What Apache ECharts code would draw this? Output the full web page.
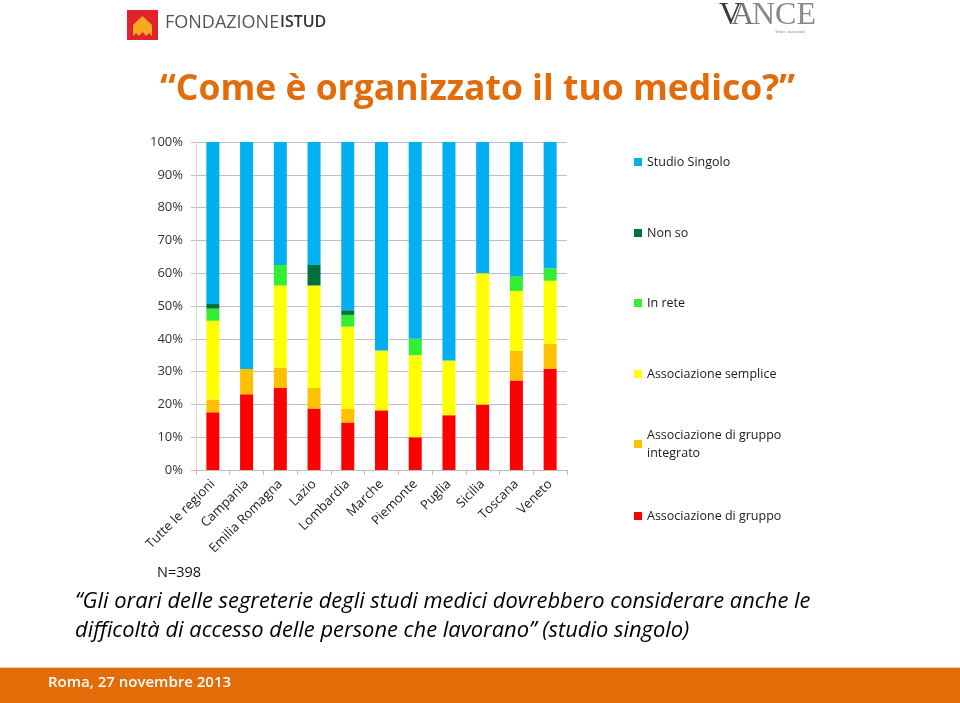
<!DOCTYPE html>
<html>
<head>
<meta charset="utf-8">
<script src="https://cdn.jsdelivr.net/npm/echarts@6/dist/echarts.min.js"></script>
<style>
html,body{margin:0;padding:0;background:#fff;}
#chart{width:960px;height:703px;}
</style>
</head>
<body>
<div id="chart"></div>
<script>
// ---- data ----
const categories = ['Tutte le regioni','Campania','Emilia Romagna','Lazio','Lombardia','Marche','Piemonte','Puglia','Sicilia','Toscana','Veneto'];
const gruppo          = [17.6, 23.1, 25.0, 18.75, 14.5, 18.2, 10.0, 16.7, 20.0, 27.3, 30.8];
const gruppoIntegrato = [3.9, 7.7, 6.25, 6.25, 4.1, 0, 0, 0, 0, 9.1, 7.7];
const semplice        = [24.0, 0, 25.0, 31.25, 25.1, 18.2, 25.0, 16.7, 40.0, 18.2, 19.2];
const inRete          = [3.7, 0, 6.25, 0, 3.6, 0, 5.0, 0, 0, 4.5, 3.8];
const nonSo           = [1.4, 0, 0, 6.25, 1.4, 0, 0, 0, 0, 0, 0];
const studioSingolo   = [49.4, 69.2, 37.5, 37.5, 51.3, 63.6, 60.0, 66.6, 40.0, 40.9, 38.5];
const yTicks = [0,10,20,30,40,50,60,70,80,90,100];

const seriesNames = ['Associazione di gruppo','Associazione di gruppo integrato','Associazione semplice','In rete','Non so','Studio Singolo'];
const seriesData = [gruppo, gruppoIntegrato, semplice, inRete, nonSo, studioSingolo];
const seriesColors = ['#FF0000','#FFC000','#FFFF00','#33EE33','#00703C','#00B0F0'];

const chart = echarts.init(document.getElementById('chart'), null, {renderer:'canvas'});

const legendCenters = {
  'Studio Singolo': 162,
  'Non so': 233,
  'In rete': 303,
  'Associazione semplice': 374,
  'Associazione di gruppo integrato': 444,
  'Associazione di gruppo': 516
};
const legends = Object.keys(legendCenters).map(name => {
  const two = name === 'Associazione di gruppo integrato';
  return {
    data: [name],
    left: 634,
    top: two ? legendCenters[name] - 27 : legendCenters[name] - 8,
    orient: 'vertical',
    icon: 'rect',
    itemWidth: 8,
    itemHeight: 8,
    itemGap: 4,
    padding: 0,
    selectedMode: false,
    formatter: two ? 'Associazione di gruppo\nintegrato' : '{name}',
    textStyle: two
      ? {fontFamily:'Open Sans', fontSize:12.5, color:'#1a1a1a', lineHeight:18, padding:[18,0,0,0]}
      : {fontFamily:'Open Sans', fontSize:12.5, color:'#1a1a1a', lineHeight:16}
  };
});

const option = {
  backgroundColor: '#ffffff',
  animation: false,
  title: {
    text: '“Come è organizzato il tuo medico?”',
    left: 160,
    top: 72,
    padding: 0,
    textStyle: {fontFamily:'Open Sans', fontWeight:'bold', fontSize:35.5, color:'#E36C0A'}
  },
  legend: legends,
  grid: {left:196, right:393, top:142, bottom:233, containLabel:false},
  xAxis: {
    type: 'category',
    data: categories,
    axisLine: {lineStyle:{color:'#BFBFBF'}},
    axisTick: {show:true, alignWithLabel:false, length:5, lineStyle:{color:'#BFBFBF'}},
    axisLabel: {rotate:45, interval:0, margin:12, fontFamily:'Open Sans', fontSize:13, color:'#222'}
  },
  yAxis: {
    type: 'value',
    min: 0, max: 100, interval: 10,
    axisLine: {show:true, lineStyle:{color:'#D9D9D9'}},
    axisTick: {show:true, length:5, lineStyle:{color:'#BFBFBF'}},
    axisLabel: {formatter: v => yTicks.includes(v) ? v + '%' : '', margin:13, fontFamily:'Open Sans', fontSize:13, color:'#333'},
    splitLine: {show:true, lineStyle:{color:'#C0C0C0'}}
  },
  series: seriesNames.map((n,i) => ({
    name: n,
    type: 'bar',
    stack: 'tot',
    barWidth: 13,
    itemStyle: {color: seriesColors[i]},
    data: seriesData[i]
  })),
  graphic: [
    // ISTUD logo
    {type:'rect', shape:{x:127, y:10, width:31, height:30}, style:{fill:'#E3232B'}},
    {type:'polygon', shape:{points:[[142.5,16],[152,25],[152,36],[149,33],[146,36],[142.5,32],[139,36],[136,33],[133,36],[133,25]]}, style:{fill:'#F7A823'}},
    {type:'text', left:165, top:14, style:{text:'FONDAZIONE', font:'18px "Open Sans"', fill:'#555'}},
    {type:'text', left:280, top:14.5, style:{text:'ISTUD', font:'600 16px "Open Sans"', fill:'#333'}},
    // VANCE logo
    {type:'text', left:719, top:0, style:{text:'V', font:'32px "Liberation Serif"', fill:'#3a3a3a'}},
    {type:'text', left:731, top:0, style:{text:'A', font:'32px "Liberation Serif"', fill:'#777'}},
    {type:'text', left:752, top:0, style:{text:'NCE', font:'32px "Liberation Serif"', fill:'#8a8a8a'}},
    {type:'text', left:775, top:29, style:{text:'Vince associati', font:'5px "Liberation Serif"', fill:'#888'}},
    // N
    {type:'text', left:157, top:565, style:{text:'N=398', font:'14.5px "Open Sans"', fill:'#111'}},
    // subtitle
    {type:'text', left:75, top:591, style:{text:'“Gli orari delle segreterie degli studi medici dovrebbero considerare anche le', font:'italic 21.9px "Open Sans"', fill:'#000'}},
    {type:'text', left:75, top:620, style:{text:'difficoltà di accesso delle persone che lavorano” (studio singolo)', font:'italic 21.9px "Open Sans"', fill:'#000'}},
    // footer
    {type:'rect', shape:{x:0, y:668, width:960, height:35}, style:{fill:'#E36C09'}},
    {type:'rect', shape:{x:0, y:667, width:960, height:1}, style:{fill:'#F4C7A0'}},
    {type:'text', left:48, top:675, style:{text:'Roma, 27 novembre 2013', font:'600 15px "Open Sans"', fill:'#fff'}}
  ]
};
chart.setOption(option);
</script>
</body>
</html>
